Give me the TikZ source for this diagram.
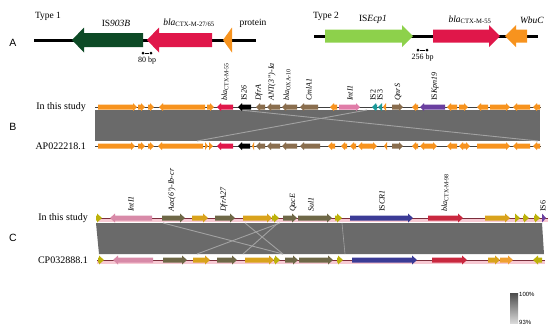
\documentclass[tikz,border=0pt]{standalone}
\usepackage{fontspec}
\setmainfont{Liberation Serif}
\setsansfont{Liberation Sans}
\usetikzlibrary{positioning}

\definecolor{isgreen}{HTML}{0D4A26}
\definecolor{ecpgreen}{HTML}{8DD14B}
\definecolor{ctxred}{HTML}{E0174A}
\definecolor{geneorange}{HTML}{F7931E}
\definecolor{genebrown}{HTML}{8A6E4E}
\definecolor{intpink}{HTML}{E07CA8}
\definecolor{isteal}{HTML}{1A9A9A}
\definecolor{kpnpurple}{HTML}{6A3FA0}
\definecolor{cpolive}{HTML}{6E6847}
\definecolor{cpgold}{HTML}{D9A31C}
\definecolor{cpyellow}{HTML}{BDB20A}
\definecolor{cpblue}{HTML}{3B3B96}
\definecolor{cpred}{HTML}{C9283F}
\definecolor{cppink}{HTML}{D88AA8}
\definecolor{cporange}{HTML}{F0A030}
\definecolor{trackred}{HTML}{7B2D3B}
\definecolor{halopink}{HTML}{F7C9D3}
\definecolor{bandgray}{HTML}{6A6A6A}
\definecolor{linkgray}{HTML}{A2A2A2}

\newcommand{\gright}[4]{%
  \fill[#4] (#1,{#3-\bh}) -- ({#2-min(\hl,#2-#1)},{#3-\bh}) -- ({#2-min(\hl,#2-#1)},{#3-\hh}) -- (#2,#3)
    -- ({#2-min(\hl,#2-#1)},{#3+\hh}) -- ({#2-min(\hl,#2-#1)},{#3+\bh}) -- (#1,{#3+\bh}) -- cycle;}
\newcommand{\gleft}[4]{%
  \fill[#4] (#2,{#3-\bh}) -- ({#1+min(\hl,#2-#1)},{#3-\bh}) -- ({#1+min(\hl,#2-#1)},{#3-\hh}) -- (#1,#3)
    -- ({#1+min(\hl,#2-#1)},{#3+\hh}) -- ({#1+min(\hl,#2-#1)},{#3+\bh}) -- (#2,{#3+\bh}) -- cycle;}

\tikzset{
  panel/.style={font=\sffamily\fontsize{10.5}{12}\selectfont},
  typename/.style={font=\fontsize{9.5}{11}\selectfont},
  rowname/.style={anchor=east, font=\fontsize{10}{12}\selectfont, inner sep=0pt},
  gname/.style={rotate=90, anchor=west, font=\fontsize{8}{9}\selectfont, inner sep=0pt},
  bpname/.style={font=\fontsize{8}{9}\selectfont, inner sep=0pt},
  bpdot/.style={circle, fill=black, inner sep=0pt, minimum size=3pt},
  track/.style={line width=0.8pt, black!75},
  ctrack/.style={line width=1pt, trackred},
  link/.style={linkgray, line width=0.9pt}
}

\begin{document}
\begin{tikzpicture}[x=1pt, y=-1pt]
\useasboundingbox (0,0) rectangle (550,333);

\node[panel] (pa) at (13,43) {A};
\node[panel] (pb) at (13,127) {B};
\node[panel] (pc) at (13,238) {C};

\def\bh{7}\def\hh{12.5}\def\hl{12}
\draw[line width=3pt] (34,40) -- (256,40);
\gleft{72}{143}{40}{isgreen}
\gleft{147}{212}{40}{ctxred}
\gleft{223}{232}{40}{geneorange}
\node[typename] (type1) at (48,16) {Type 1};
\node[typename] (is903) at (116,23) {IS\textit{903B}};
\node[typename] (ctx27) at (189,23) {\textit{bla}\textsubscript{CTX-M-27/65}};
\node[typename] (prot) at (253,23) {protein};
\node[bpdot] (bp1a) at (143,53) {};
\node[bpdot] (bp1b) at (151,53) {};
\draw[line width=0.8pt] (bp1a) -- (bp1b);
\node[bpname] (bp1) at (147,61) {80 bp};

\def\bh{6.5}\def\hh{11}\def\hl{11}
\draw[line width=3pt] (314,36) -- (538,36);
\gright{325}{413}{36}{ecpgreen}
\gright{433}{500}{36}{ctxred}
\gleft{505}{527}{36}{geneorange}
\node[typename] (type2) at (326,16) {Type 2};
\node[typename] (isecp) at (373,19) {IS\textit{Ecp1}};
\node[typename] (ctx55) at (470,20) {\textit{bla}\textsubscript{CTX-M-55}};
\node[typename] (wbuc) at (532,20) {\textit{WbuC}};
\node[bpdot] (bp2a) at (418,50) {};
\node[bpdot] (bp2b) at (427,50) {};
\draw[line width=0.8pt] (bp2a) -- (bp2b);
\node[bpname] (bp2) at (422.5,58) {256 bp};

\fill[bandgray] (95,110) -- (540,110) -- (540,141) -- (95,141) -- cycle;
\draw[link] (240,110) -- (538,141);
\draw[link] (367,110) -- (197,141);
\draw[track] (95,107) -- (541,107);
\draw[track] (95,146) -- (541,146);
\node[rowname] (studyb) at (86,107) {In this study};
\node[rowname] (ap) at (86,146) {AP022218.1};

\def\bh{2.5}\def\hh{4}\def\hl{4}
\gright{98}{137}{107}{geneorange}
\gright{138}{145}{107}{geneorange}
\gright{148}{154}{107}{geneorange}
\gleft{159}{205}{107}{geneorange}
\gright{207}{214}{107}{geneorange}
\gleft{217}{233}{107}{ctxred}
\gleft{238}{251}{107}{black}
\gleft{256}{265}{107}{genebrown}
\gleft{267}{280}{107}{genebrown}
\gleft{282}{297}{107}{genebrown}
\gleft{300}{318}{107}{genebrown}
\gleft{330}{337}{107}{geneorange}
\gright{339}{360}{107}{intpink}
\gleft{372}{377}{107}{isteal}
\gleft{378}{382}{107}{isteal}
\gleft{383}{386}{107}{geneorange}
\gright{392}{403}{107}{genebrown}
\gleft{412}{418}{107}{geneorange}
\gleft{420}{445}{107}{kpnpurple}
\gleft{447}{457}{107}{geneorange}
\gright{459}{468}{107}{geneorange}
\gleft{477}{488}{107}{geneorange}
\gright{490}{510}{107}{geneorange}
\gleft{513}{530}{107}{geneorange}
\gleft{533}{540}{107}{geneorange}

\gright{98}{135}{146}{geneorange}
\gright{138}{145}{146}{geneorange}
\gright{148}{154}{146}{geneorange}
\gleft{158}{203}{146}{geneorange}
\gright{205}{208}{146}{geneorange}
\gright{209}{213}{146}{geneorange}
\gleft{217}{233}{146}{ctxred}
\gleft{238}{250}{146}{black}
\gleft{252}{254}{146}{geneorange}
\gleft{256}{265}{146}{genebrown}
\gleft{267}{280}{146}{genebrown}
\gleft{282}{297}{146}{genebrown}
\gleft{300}{320}{146}{genebrown}
\gleft{328}{335}{146}{geneorange}
\gleft{341}{347}{146}{geneorange}
\gleft{350}{356}{146}{geneorange}
\gleft{358}{368}{146}{geneorange}
\gright{368}{377}{146}{geneorange}
\gleft{384}{387}{146}{geneorange}
\gright{392}{403}{146}{genebrown}
\gleft{412}{418}{146}{geneorange}
\gleft{420}{433}{146}{geneorange}
\gright{433}{437}{146}{geneorange}
\gleft{447}{457}{146}{geneorange}
\gleft{459}{464}{146}{geneorange}
\gright{464}{470}{146}{geneorange}
\gright{477}{510}{146}{geneorange}
\gleft{513}{530}{146}{geneorange}
\gleft{533}{540}{146}{geneorange}

\node[gname] (lctx55) at (225,101) {\textit{bla}\textsubscript{CTX-M-55}};
\node[gname] (lis26) at (244,101) {IS\textit{26}};
\node[gname] (ldfra) at (259,101) {\textit{DfrA}};
\node[gname] (lant) at (272,101) {\textit{ANT(3'')-Ia}};
\node[gname] (loxa) at (287,101) {\textit{bla}\textsubscript{OXA-10}};
\node[gname] (lcml) at (309,101) {\textit{CmlA1}};
\node[gname] (linti) at (350,101) {\textit{IntI1}};
\node[gname] (lis2) at (373,101) {IS2};
\node[gname] (lis3) at (380,101) {IS3};
\node[gname] (lqnr) at (398,101) {\textit{QnrS}};
\node[gname] (lkpn) at (435,101) {IS\textit{Kpn19}};

\fill[bandgray] (96,223) -- (542,223) -- (544,254) -- (99,254) -- cycle;
\draw[link] (163,223) -- (283,254);
\draw[link] (197,254) -- (280,223);
\draw[link] (245,223) -- (283,254);
\draw[link] (243,254) -- (278,223);
\draw[link, line width=0.6pt] (342,223) -- (345,254);
\draw[halopink, line width=4pt] (97,220) -- (548,220);
\draw[halopink, line width=4pt] (97,262) -- (545,262);
\draw[ctrack] (97,218) -- (548,218);
\draw[ctrack] (97,260) -- (545,260);
\node[rowname] (studyc) at (88,218) {In this study};
\node[rowname] (cp) at (88,260) {CP032888.1};

\def\bh{2.5}\def\hh{4.5}\def\hl{5}
\gright{96}{102}{218}{cpyellow}
\gleft{110}{152}{218}{cppink}
\gright{162}{185}{218}{cpolive}
\gright{192}{208}{218}{cpgold}
\gright{215}{235}{218}{cpolive}
\gright{243}{272}{218}{cpgold}
\gright{272}{279}{218}{cpyellow}
\gright{283}{297}{218}{cpolive}
\gright{298}{332}{218}{cpolive}
\gright{335}{342}{218}{cpyellow}
\gright{350}{413}{218}{cpblue}
\gright{428}{463}{218}{cpred}
\gright{485}{510}{218}{cpgold}
\gright{515}{520}{218}{cpyellow}
\gright{523}{529}{218}{cpyellow}
\gright{534}{540}{218}{cpyellow}
\gright{542}{546}{218}{kpnpurple}

\gright{98}{104}{260}{cpyellow}
\gleft{113}{153}{260}{cppink}
\gright{163}{187}{260}{cpolive}
\gright{193}{210}{260}{cpgold}
\gright{217}{237}{260}{cpolive}
\gright{245}{274}{260}{cpgold}
\gright{274}{280}{260}{cpyellow}
\gright{285}{298}{260}{cpolive}
\gright{299}{333}{260}{cpolive}
\gright{337}{343}{260}{cpyellow}
\gright{352}{417}{260}{cpblue}
\gright{432}{467}{260}{cpred}
\gright{488}{500}{260}{cpgold}
\gright{500}{513}{260}{cporange}
\gleft{533}{542}{260}{cpyellow}

\node[gname] (cinti) at (131,212) {\textit{IntI1}};
\node[gname] (caac) at (172,212) {\textit{Aac(6')-Ib-cr}};
\node[gname] (cdfr) at (224,212) {\textit{DfrA27}};
\node[gname] (cqac) at (293,212) {\textit{QacE}};
\node[gname] (csul) at (311,212) {\textit{Sul1}};
\node[gname] (ccr) at (382,212) {IS\textit{CR1}};
\node[gname] (cctx) at (445,212) {\textit{bla}\textsubscript{CTX-M-98}};
\node[gname] (cis6) at (543,212) {IS6};

\shade[top color=black!70, bottom color=black!15] (510,293) rectangle (518,323);
\node[anchor=west, font=\sffamily\fontsize{6}{7}\selectfont, inner sep=1pt] (p100) at (518,294) {100\%};
\node[anchor=west, font=\sffamily\fontsize{6}{7}\selectfont, inner sep=1pt] (p93) at (518,322) {93\%};
\end{tikzpicture}
\end{document}
